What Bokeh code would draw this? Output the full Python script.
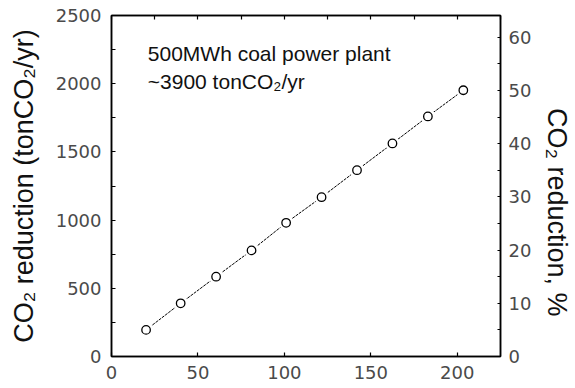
from bokeh.plotting import figure
from bokeh.models import LinearAxis, Range1d, FixedTicker, Label
from bokeh.embed import file_html
from bokeh.resources import INLINE

# Data
capacity = [20, 40, 60.5, 81, 101, 121.5, 142, 162.5, 183, 203.5]
co2_reduction = [195, 390, 585, 778, 980, 1168, 1366, 1562, 1760, 1952]
plant_total = 3900  # tonCO2/yr

x_ticks = [0, 50, 100, 150, 200]
x_top_ticks = [0, 25, 50, 75, 100, 125, 150, 175, 200, 225]
y_ticks = [0, 500, 1000, 1500, 2000, 2500]
y_minor = [250, 750, 1250, 1750, 2250]
pct_ticks = [0, 10, 20, 30, 40, 50, 60]
pct_minor = [5, 15, 25, 35, 45, 55]

note_line1 = "500MWh coal power plant"
note_line2 = "~3900 tonCO\u2082/yr"
left_title = "CO\u2082 reduction (tonCO\u2082/yr)"
right_title = "CO\u2082 reduction, %"

TICK_FONT = "DejaVu Sans"
LABEL_FONT = "Liberation Sans"

p = figure(width=575, height=388, x_range=Range1d(0, 225), y_range=Range1d(0, 2500),
           output_backend="svg", toolbar_location=None,
           min_border_left=111, min_border_top=15, min_border_right=75, min_border_bottom=32)
p.extra_y_ranges = {"pct": Range1d(0, 2500 / plant_total * 100)}
p.xgrid.visible = False
p.ygrid.visible = False
p.outline_line_color = "black"
p.outline_line_width = 1.5
p.background_fill_color = "white"
p.border_fill_color = "white"

def style_axis(ax, tick_in=4):
    ax.axis_line_color = "black"
    ax.axis_line_width = 1.5
    ax.major_tick_in = tick_in
    ax.major_tick_out = 0
    ax.minor_tick_in = tick_in
    ax.minor_tick_out = 0
    ax.major_tick_line_color = "black"
    ax.minor_tick_line_color = "black"
    ax.major_tick_line_width = 1.2
    ax.minor_tick_line_width = 1.2
    ax.major_label_text_font = TICK_FONT
    ax.major_label_text_font_size = "18px"
    ax.major_label_text_color = "#4a4a4a"
    ax.axis_label_text_font = LABEL_FONT
    ax.axis_label_text_font_size = "27px"
    ax.axis_label_text_font_style = "normal"
    ax.axis_label_text_color = "#111111"

xa = p.xaxis[0]
xa.ticker = FixedTicker(ticks=x_ticks)
style_axis(xa)
xa.major_label_standoff = 9

ya = p.yaxis[0]
ya.ticker = FixedTicker(ticks=y_ticks, minor_ticks=y_minor)
style_axis(ya)
ya.major_label_standoff = 10
ya.axis_label = left_title
ya.axis_label_standoff = 14

ra = LinearAxis(y_range_name="pct", ticker=FixedTicker(ticks=pct_ticks, minor_ticks=pct_minor))
style_axis(ra, tick_in=3)
ra.major_label_standoff = 8
# leading no-break spaces push the (centred) title down, as in the reference
ra.axis_label = "\u00a0" * 7 + right_title
ra.axis_label_standoff = 8
p.add_layout(ra, "right")

ta = LinearAxis(ticker=FixedTicker(ticks=x_top_ticks))
style_axis(ta)
ta.major_label_text_alpha = 0
ta.major_label_text_font_size = "1px"
ta.major_label_standoff = 0
p.add_layout(ta, "above")

p.line(capacity, co2_reduction, line_color="black", line_width=1, line_dash="3 1")
p.scatter(capacity, co2_reduction, size=14, marker="circle", fill_color="white", line_color="white")
p.scatter(capacity, co2_reduction, size=8.5, marker="circle", fill_color="white",
          line_color="black", line_width=1.3)

for txt, yy in [(note_line1, 2222), (note_line2, 2016)]:
    p.add_layout(Label(x=21, y=yy, text=txt, text_font=LABEL_FONT, text_font_size="21px",
                       text_color="#111111", text_baseline="alphabetic"))

open("out.html", "w").write(file_html(p, INLINE))
